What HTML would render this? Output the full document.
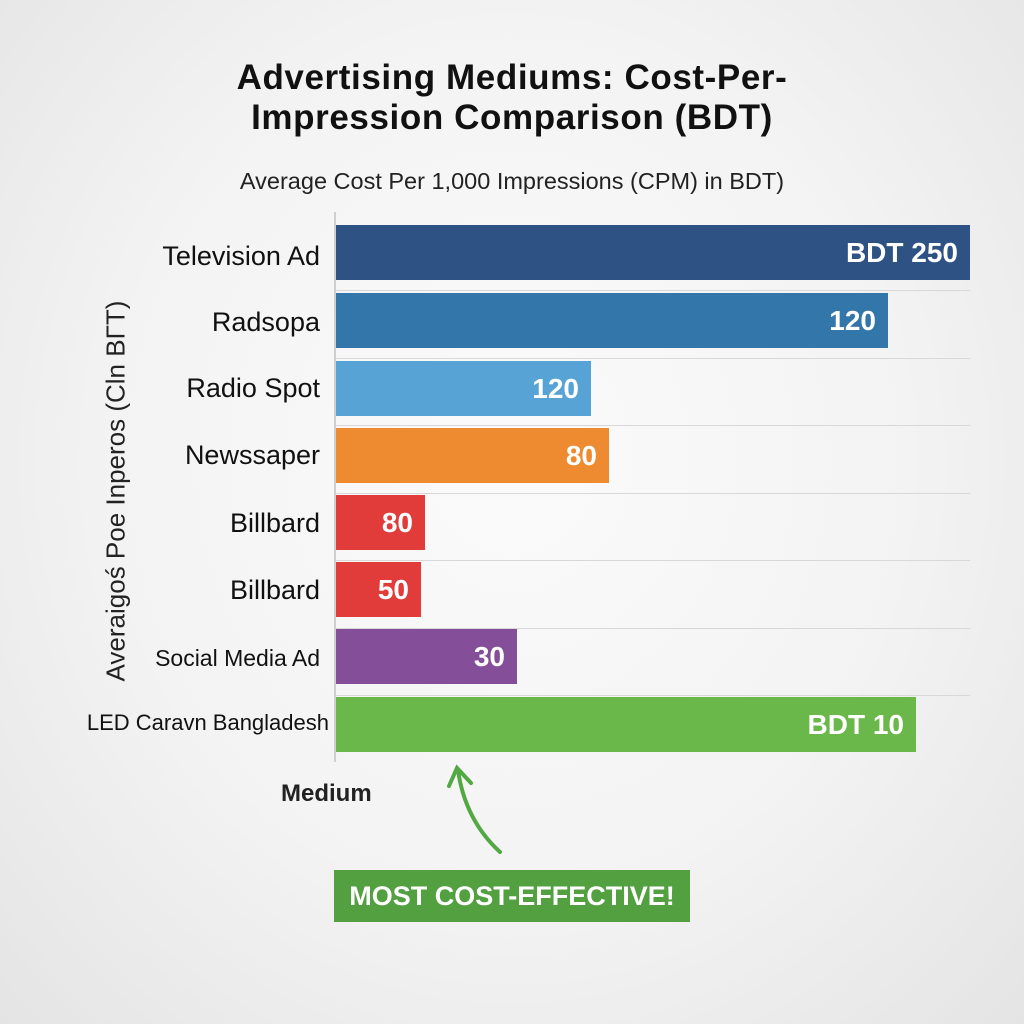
<!DOCTYPE html>
<html><head><meta charset="utf-8"><style>
html,body{margin:0;padding:0}
body{width:1024px;height:1024px;position:relative;overflow:hidden;font-family:"Liberation Sans",sans-serif;background:radial-gradient(ellipse at 50% 45%,#fbfbfb 0%,#f3f3f3 55%,#e4e4e4 100%)}
.t{position:absolute;left:0;width:1024px;text-align:center;font-weight:bold;font-size:35px;letter-spacing:0.6px;color:#111}
.sub{position:absolute;left:0;width:1024px;text-align:center;font-size:23.5px;color:#222;top:168px}
.lab{position:absolute;right:704px;color:#111;font-size:27px;line-height:54px;white-space:nowrap;text-align:right}
.bar{position:absolute;left:336px;height:55px;color:#fff;font-weight:bold;font-size:28px;line-height:55px;text-align:right;box-sizing:border-box;padding-right:12px}
.g{position:absolute;left:336px;width:634px;height:1px;background:#d8d8d8}
</style></head><body>
<div class="t" style="top:58px">Advertising Mediums: Cost-Per-</div>
<div class="t" style="top:98px">Impression Comparison (BDT)</div>
<div class="sub">Average Cost Per 1,000 Impressions (CPM) in BDT)</div>
<div style="position:absolute;left:334px;top:212px;width:2px;height:550px;background:#cfcfcf"></div>
<div class="g" style="top:290px"></div><div class="g" style="top:358px"></div><div class="g" style="top:425px"></div><div class="g" style="top:493px"></div><div class="g" style="top:560px"></div><div class="g" style="top:628px"></div><div class="g" style="top:695px"></div>
<div class="bar" style="top:225px;width:634px;background:#2e5283">BDT 250</div>
<div class="bar" style="top:293px;width:552px;background:#3376a9">120</div>
<div class="bar" style="top:361px;width:255px;background:#58a3d6">120</div>
<div class="bar" style="top:428px;width:273px;background:#ee8a2f">80</div>
<div class="bar" style="top:495px;width:89px;background:#e13b3a">80</div>
<div class="bar" style="top:562px;width:85px;background:#e13b3a">50</div>
<div class="bar" style="top:629px;width:181px;background:#844f98">30</div>
<div class="bar" style="top:697px;width:580px;background:#6ab84a">BDT 10</div>
<div class="lab" style="top:229px">Television Ad</div>
<div class="lab" style="top:295px">Radsopa</div>
<div class="lab" style="top:361px">Radio Spot</div>
<div class="lab" style="top:428px">Newssaper</div>
<div class="lab" style="top:496px">Billbard</div>
<div class="lab" style="top:563px">Billbard</div>
<div class="lab" style="top:631px;font-size:23px">Social Media Ad</div>
<div class="lab" style="top:696px;font-size:22px;right:695px">LED Caravn Bangladesh</div>
<div style="position:absolute;left:116px;top:491px;transform:translate(-50%,-50%) rotate(-90deg);font-size:26px;color:#222;white-space:nowrap">Averaigoś Poe Inperos (Cln BΓT)</div>
<div style="position:absolute;left:281px;top:780px;font-weight:bold;font-size:24px;color:#222">Medium</div>
<svg style="position:absolute;left:0;top:0" width="1024" height="1024">
<path d="M500,852 Q465,820 458,770" fill="none" stroke="#52a843" stroke-width="4" stroke-linecap="round"/>
<path d="M449,786 L457,768 L471,783" fill="none" stroke="#52a843" stroke-width="4" stroke-linecap="round"/>
</svg>
<div style="position:absolute;left:334px;top:870px;width:356px;height:52px;background:#52a040;color:#fff;font-weight:bold;font-size:27px;line-height:52px;text-align:center">MOST COST-EFFECTIVE!</div>
</body></html>
